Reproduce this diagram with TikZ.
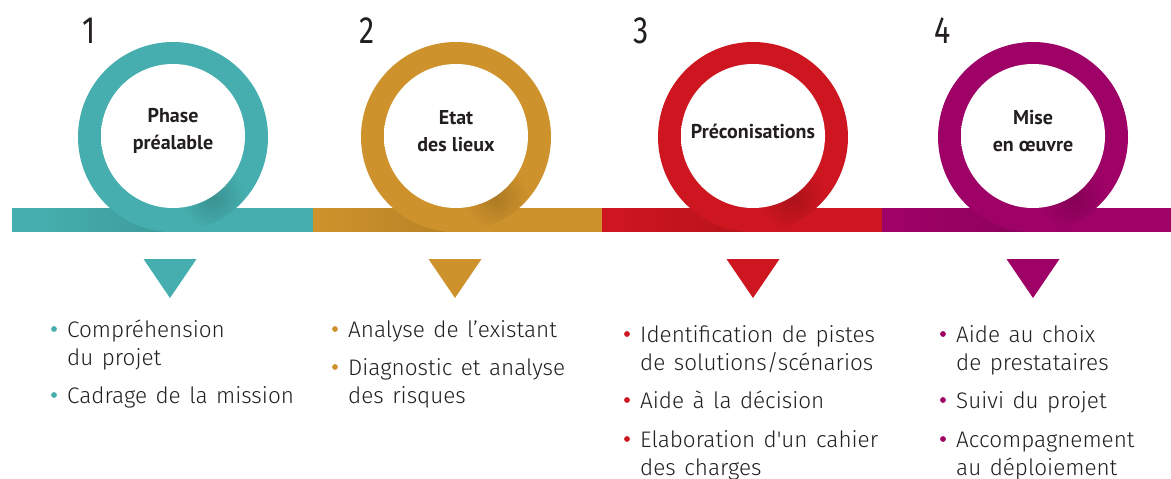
\documentclass[tikz,border=0pt]{standalone}
\usepackage{fontspec}
\setmainfont{PT Sans}
\newfontfamily\bodyfont{Fira Sans Light}[WordSpace=1.35]
\newfontfamily\headfont{PT Sans}
\newfontfamily\numfont{Fira Sans}
\usetikzlibrary{fadings}
\definecolor{cteal}{RGB}{70,174,174}
\definecolor{corange}{RGB}{206,146,44}
\definecolor{cred}{RGB}{205,22,32}
\definecolor{cpurple}{RGB}{158,2,102}
\definecolor{txt}{RGB}{35,31,32}
\pgfdeclareradialshading{innerglow}{\pgfpoint{20bp}{6bp}}{color(0bp)=(white); color(40bp)=(white); color(50bp)=(black!11)}
\tikzfading[name=softspot, inner color=transparent!0, outer color=transparent!100]
\tikzfading[name=fadeleft, left color=transparent!100, right color=transparent!0]
\tikzset{
  numlabel/.style={font=\numfont\fontsize{38}{38}\selectfont, text=txt, anchor=base, inner sep=0pt, xscale=0.8},
  headlabel/.style={font=\headfont\bfseries\fontsize{20}{27}\selectfont, text=txt, align=center, inner sep=0pt},
  bodyline/.style={font=\bodyfont\fontsize{22.5}{28}\selectfont, text=txt, anchor=base west, inner sep=0pt},
}
% first line of an item: name, bullet x, baseline y, colour, text
\newcommand\itemline[5]{%
  \fill[#4] (#2,#3-8) circle[radius=2.9pt];
  \node[bodyline] (#1) at (#2+13,#3) {#5};}
% continuation line: name, bullet x, baseline y, text
\newcommand\contline[4]{%
  \node[bodyline] (#1) at (#2+13,#3) {#4};}
\begin{document}
\begin{tikzpicture}[x=1pt,y=-1pt]
\useasboundingbox (0,0) rectangle (1171,479);
\fill[white] (0,0) rectangle (1171,479);
% band
\fill[cteal] (12,208) rectangle (313,232);
\fill[corange] (313,208) rectangle (602,232);
\fill[cred] (602,208) rectangle (882,232);
\fill[cpurple] (882,208) rectangle (1171,232);
% circles and triangles
\foreach \cx/\col/\tx in {173/cteal/170, 456/corange/455, 753/cred/753, 1033/cpurple/1033} {
  \fill[black, opacity=0.10, path fading=fadeleft] (\cx-130,208) rectangle (\cx-10,232);
  \fill[\col] (\cx,137) circle[radius=95pt];
  \begin{scope}
    \clip (\cx,137) circle[radius=95pt];
    \fill[black, opacity=0.16, path fading=softspot] (\cx+40,198) circle[radius=32pt];
  \end{scope}
  \shade[shading=innerglow] (\cx,136) circle[radius=72pt];
  \fill[\col] (\tx-26.5,259) -- (\tx+26.5,259) -- (\tx,298) -- cycle;
}
% numbers
\node[numlabel] (n1) at (89,43) {1};
\node[numlabel] (n2) at (367,43) {2};
\node[numlabel] (n3) at (641,43) {3};
\node[numlabel] (n4) at (943,43) {4};
% headings
\node[headlabel] (h1) at (173,131) {Phase\\préalable};
\node[headlabel] (h2) at (456,131) {Etat\\des lieux};
\node[headlabel] (h3) at (753,131) {Préconisations};
\node[headlabel] (h4) at (1033,131) {Mise\\en \oe uvre};
% column 1
\itemline{a1}{54}{337}{cteal}{Compréhension}
\contline{a2}{54}{365}{du projet}
\itemline{a3}{54}{403}{cteal}{Cadrage de la mission}
% column 2
\itemline{b1}{335}{337}{corange}{Analyse de l’existant}
\itemline{b2}{335}{375}{corange}{Diagnostic et analyse}
\contline{b3}{335}{403}{des risques}
% column 3
\itemline{c1}{627}{342}{cred}{Identification de pistes}
\contline{c2}{627}{370}{de solutions/scénarios}
\itemline{c3}{627}{408}{cred}{Aide à la décision}
\itemline{c4}{627}{447}{cred}{Elaboration d'un cahier}
\contline{c5}{627}{475}{des charges}
% column 4
\itemline{d1}{943}{342}{cpurple}{Aide au choix}
\contline{d2}{943}{370}{de prestataires}
\itemline{d3}{943}{408}{cpurple}{Suivi du projet}
\itemline{d4}{943}{447}{cpurple}{Accompagnement}
\contline{d5}{943}{475}{au déploiement}
\end{tikzpicture}
\end{document}
